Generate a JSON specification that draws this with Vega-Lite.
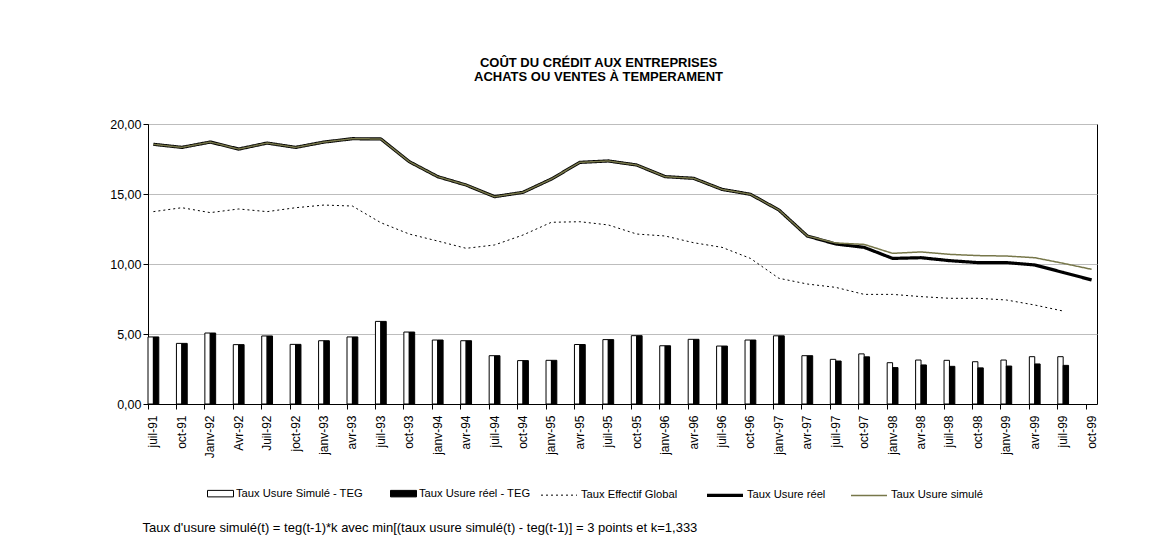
{
  "$schema": "https://vega.github.io/schema/vega-lite/v6.json",
  "autosize": "none",
  "width": 949,
  "height": 280,
  "padding": {"left": 148, "top": 124, "right": 71, "bottom": 155},
  "background": "white",
  "config": {
    "view": {"stroke": "black", "strokeWidth": 1},
    "font": "Liberation Sans",
    "axis": {"labelFont": "Liberation Sans", "labelColor": "black", "domainColor": "black", "tickColor": "black", "titleFont": "Liberation Sans", "titleColor": "black"},
    "legend": {"labelFont": "Liberation Sans", "labelColor": "black", "labelFontSize": 11.2, "labelLimit": 300}
  },
  "title": {
    "text": ["COÛT DU CRÉDIT AUX ENTREPRISES", "ACHATS OU VENTES À TEMPERAMENT"],
    "font": "Liberation Sans", "fontSize": 13, "fontWeight": "bold", "color": "black",
    "anchor": "middle", "frame": "group", "dx": -24, "baseline": "bottom", "offset": 21, "lineHeight": 14.5
  },
  "data": {"values": [
    {"date": "juil-91", "Taux Usure réel": 18.55, "Taux Usure simulé": 18.55, "Taux Effectif Global": 13.74, "Taux Usure Simulé - TEG": 4.79, "Taux Usure réel - TEG": 4.79},
    {"date": "oct-91", "Taux Usure réel": 18.33, "Taux Usure simulé": 18.33, "Taux Effectif Global": 14.02, "Taux Usure Simulé - TEG": 4.33, "Taux Usure réel - TEG": 4.33},
    {"date": "Janv-92", "Taux Usure réel": 18.71, "Taux Usure simulé": 18.71, "Taux Effectif Global": 13.67, "Taux Usure Simulé - TEG": 5.07, "Taux Usure réel - TEG": 5.07},
    {"date": "Avr-92", "Taux Usure réel": 18.21, "Taux Usure simulé": 18.21, "Taux Effectif Global": 13.93, "Taux Usure Simulé - TEG": 4.24, "Taux Usure réel - TEG": 4.24},
    {"date": "Juil-92", "Taux Usure réel": 18.64, "Taux Usure simulé": 18.64, "Taux Effectif Global": 13.74, "Taux Usure Simulé - TEG": 4.86, "Taux Usure réel - TEG": 4.86},
    {"date": "joct-92", "Taux Usure réel": 18.33, "Taux Usure simulé": 18.33, "Taux Effectif Global": 14.02, "Taux Usure Simulé - TEG": 4.26, "Taux Usure réel - TEG": 4.26},
    {"date": "janv-93", "Taux Usure réel": 18.71, "Taux Usure simulé": 18.71, "Taux Effectif Global": 14.21, "Taux Usure Simulé - TEG": 4.52, "Taux Usure réel - TEG": 4.52},
    {"date": "avr-93", "Taux Usure réel": 18.95, "Taux Usure simulé": 18.95, "Taux Effectif Global": 14.14, "Taux Usure Simulé - TEG": 4.79, "Taux Usure réel - TEG": 4.79},
    {"date": "juil-93", "Taux Usure réel": 18.93, "Taux Usure simulé": 18.93, "Taux Effectif Global": 12.95, "Taux Usure Simulé - TEG": 5.9, "Taux Usure réel - TEG": 5.9},
    {"date": "oct-93", "Taux Usure réel": 17.31, "Taux Usure simulé": 17.31, "Taux Effectif Global": 12.14, "Taux Usure Simulé - TEG": 5.14, "Taux Usure réel - TEG": 5.14},
    {"date": "janv-94", "Taux Usure réel": 16.24, "Taux Usure simulé": 16.24, "Taux Effectif Global": 11.64, "Taux Usure Simulé - TEG": 4.57, "Taux Usure réel - TEG": 4.57},
    {"date": "avr-94", "Taux Usure réel": 15.64, "Taux Usure simulé": 15.64, "Taux Effectif Global": 11.12, "Taux Usure Simulé - TEG": 4.52, "Taux Usure réel - TEG": 4.52},
    {"date": "juil-94", "Taux Usure réel": 14.81, "Taux Usure simulé": 14.81, "Taux Effectif Global": 11.36, "Taux Usure Simulé - TEG": 3.45, "Taux Usure réel - TEG": 3.45},
    {"date": "oct-94", "Taux Usure réel": 15.12, "Taux Usure simulé": 15.12, "Taux Effectif Global": 12.07, "Taux Usure Simulé - TEG": 3.1, "Taux Usure réel - TEG": 3.1},
    {"date": "janv-95", "Taux Usure réel": 16.07, "Taux Usure simulé": 16.07, "Taux Effectif Global": 12.98, "Taux Usure Simulé - TEG": 3.12, "Taux Usure réel - TEG": 3.12},
    {"date": "avr-95", "Taux Usure réel": 17.26, "Taux Usure simulé": 17.26, "Taux Effectif Global": 13.02, "Taux Usure Simulé - TEG": 4.25, "Taux Usure réel - TEG": 4.25},
    {"date": "juil-95", "Taux Usure réel": 17.36, "Taux Usure simulé": 17.36, "Taux Effectif Global": 12.79, "Taux Usure Simulé - TEG": 4.6, "Taux Usure réel - TEG": 4.6},
    {"date": "oct-95", "Taux Usure réel": 17.07, "Taux Usure simulé": 17.07, "Taux Effectif Global": 12.14, "Taux Usure Simulé - TEG": 4.88, "Taux Usure réel - TEG": 4.88},
    {"date": "janv-96", "Taux Usure réel": 16.24, "Taux Usure simulé": 16.24, "Taux Effectif Global": 12.0, "Taux Usure Simulé - TEG": 4.16, "Taux Usure réel - TEG": 4.16},
    {"date": "avr-96", "Taux Usure réel": 16.12, "Taux Usure simulé": 16.12, "Taux Effectif Global": 11.52, "Taux Usure Simulé - TEG": 4.62, "Taux Usure réel - TEG": 4.62},
    {"date": "juil-96", "Taux Usure réel": 15.33, "Taux Usure simulé": 15.33, "Taux Effectif Global": 11.19, "Taux Usure Simulé - TEG": 4.14, "Taux Usure réel - TEG": 4.14},
    {"date": "oct-96", "Taux Usure réel": 14.98, "Taux Usure simulé": 14.98, "Taux Effectif Global": 10.4, "Taux Usure Simulé - TEG": 4.57, "Taux Usure réel - TEG": 4.57},
    {"date": "janv-97", "Taux Usure réel": 13.86, "Taux Usure simulé": 13.86, "Taux Effectif Global": 8.98, "Taux Usure Simulé - TEG": 4.87, "Taux Usure réel - TEG": 4.87},
    {"date": "avr-97", "Taux Usure réel": 12.0, "Taux Usure simulé": 12.0, "Taux Effectif Global": 8.57, "Taux Usure Simulé - TEG": 3.45, "Taux Usure réel - TEG": 3.45},
    {"date": "juil-97", "Taux Usure réel": 11.43, "Taux Usure simulé": 11.5, "Taux Effectif Global": 8.33, "Taux Usure Simulé - TEG": 3.19, "Taux Usure réel - TEG": 3.07},
    {"date": "oct-97", "Taux Usure réel": 11.19, "Taux Usure simulé": 11.4, "Taux Effectif Global": 7.83, "Taux Usure Simulé - TEG": 3.58, "Taux Usure réel - TEG": 3.37},
    {"date": "janv-98", "Taux Usure réel": 10.4, "Taux Usure simulé": 10.76, "Taux Effectif Global": 7.83, "Taux Usure Simulé - TEG": 2.95, "Taux Usure réel - TEG": 2.6},
    {"date": "avr-98", "Taux Usure réel": 10.45, "Taux Usure simulé": 10.86, "Taux Effectif Global": 7.67, "Taux Usure Simulé - TEG": 3.14, "Taux Usure réel - TEG": 2.79},
    {"date": "juil-98", "Taux Usure réel": 10.24, "Taux Usure simulé": 10.69, "Taux Effectif Global": 7.55, "Taux Usure Simulé - TEG": 3.12, "Taux Usure réel - TEG": 2.69},
    {"date": "oct-98", "Taux Usure réel": 10.1, "Taux Usure simulé": 10.6, "Taux Effectif Global": 7.55, "Taux Usure Simulé - TEG": 3.02, "Taux Usure réel - TEG": 2.58},
    {"date": "janv-99", "Taux Usure réel": 10.1, "Taux Usure simulé": 10.57, "Taux Effectif Global": 7.43, "Taux Usure Simulé - TEG": 3.14, "Taux Usure réel - TEG": 2.71},
    {"date": "avr-99", "Taux Usure réel": 9.93, "Taux Usure simulé": 10.45, "Taux Effectif Global": 7.07, "Taux Usure Simulé - TEG": 3.38, "Taux Usure réel - TEG": 2.86},
    {"date": "juil-99", "Taux Usure réel": 9.4, "Taux Usure simulé": 10.05, "Taux Effectif Global": 6.64, "Taux Usure Simulé - TEG": 3.38, "Taux Usure réel - TEG": 2.76},
    {"date": "oct-99", "Taux Usure réel": 8.86, "Taux Usure simulé": 9.62, "Taux Effectif Global": null, "Taux Usure Simulé - TEG": null, "Taux Usure réel - TEG": null}
  ]},
  "encoding": {
    "x": {
      "field": "date", "type": "nominal", "sort": null,
      "scale": {"type": "band", "paddingInner": 0.62, "paddingOuter": 0},
      "axis": {
        "labelAngle": -90, "labelAlign": "right", "labelBaseline": "middle", "labelFontSize": 12, "labelPadding": 6,
        "tickSize": 5, "bandPosition": 0, "grid": false,
        "title": "Taux d'usure simulé(t)  = teg(t-1)*k avec min[(taux usure simulé(t) - teg(t-1)] = 3 points et k=1,333",
        "titleFontSize": 13, "titleFontWeight": "normal", "titleAnchor": "start", "titleAlign": "left",
        "titleBaseline": "alphabetic", "titleX": -6, "titleY": 127
      }
    },
    "y": {
      "type": "quantitative",
      "scale": {"domain": [0, 20], "nice": false},
      "axis": {"values": [0, 5, 10, 15, 20], "title": null, "grid": true, "gridColor": "#bdbdbd", "tickSize": 5, "labelFontSize": 12.5, "labelPadding": 2,
        "labelExpr": "replace(format(datum.value, '.2f'), '.', ',')"}
    }
  },
  "layer": [
    {
      "transform": [{"fold": ["Taux Usure Simulé - TEG", "Taux Usure réel - TEG"], "as": ["serie", "val"]}],
      "mark": {"type": "bar", "stroke": "black", "strokeWidth": 1},
      "encoding": {
        "xOffset": {"field": "serie", "type": "nominal", "scale": {"domain": ["Taux Usure Simulé - TEG", "Taux Usure réel - TEG"], "paddingInner": 0, "paddingOuter": 0}},
        "y": {"field": "val"},
        "fill": {
          "field": "serie", "type": "nominal",
          "scale": {"domain": ["Taux Usure Simulé - TEG", "Taux Usure réel - TEG"], "range": ["white", "black"]},
          "legend": {
            "orient": "none", "direction": "horizontal", "columns": 2, "legendX": 59, "legendY": 356,
            "title": null, "labelOffset": 2, "columnPadding": 25,
            "symbolType": "M-1,-0.25H1V0.25H-1Z", "symbolSize": 676, "symbolStrokeColor": "black", "symbolStrokeWidth": 1
          }
        }
      }
    },
    {
      "transform": [{"fold": ["Taux Effectif Global", "Taux Usure réel", "Taux Usure simulé"], "as": ["serie", "val"]}],
      "mark": {"type": "line"},
      "encoding": {
        "y": {"field": "val"},
        "stroke": {
          "field": "serie", "type": "nominal",
          "scale": {"domain": ["Taux Effectif Global", "Taux Usure réel", "Taux Usure simulé"], "range": ["black", "black", "#77774a"]},
          "legend": {"orient": "none", "direction": "horizontal", "columns": 3, "legendX": 391, "legendY": 351, "title": null, "labelOffset": 2, "columnPadding": 22, "symbolType": "stroke", "symbolSize": 1296}
        },
        "strokeDash": {
          "field": "serie", "type": "nominal",
          "scale": {"domain": ["Taux Effectif Global", "Taux Usure réel", "Taux Usure simulé"], "range": [[2, 3], [1, 0], [1, 0]]},
          "legend": {"orient": "none", "direction": "horizontal", "columns": 3, "legendX": 391, "legendY": 351, "title": null, "labelOffset": 2, "columnPadding": 22, "symbolType": "stroke", "symbolSize": 1296}
        },
        "strokeWidth": {
          "field": "serie", "type": "nominal",
          "scale": {"type": "ordinal", "domain": ["Taux Effectif Global", "Taux Usure réel", "Taux Usure simulé"], "range": [1, 3.2, 1.5]},
          "legend": {"orient": "none", "direction": "horizontal", "columns": 3, "legendX": 391, "legendY": 351, "title": null, "labelOffset": 2, "columnPadding": 22, "symbolType": "stroke", "symbolSize": 1296}
        }
      }
    }
  ]
}
